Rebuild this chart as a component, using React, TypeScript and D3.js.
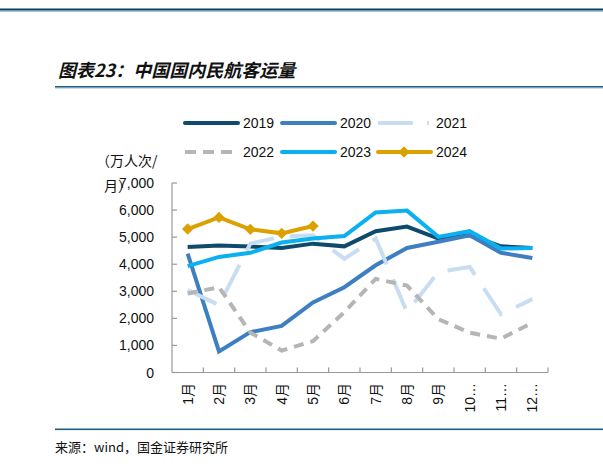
import React from "react";
import * as d3 from "d3";

const months = ["1月", "2月", "3月", "4月", "5月", "6月", "7月", "8月", "9月", "10月", "11月", "12月"];
const monthLabels = ["1月", "2月", "3月", "4月", "5月", "6月", "7月", "8月", "9月", "10…", "11…", "12…"];
const yTicks = [0, 1000, 2000, 3000, 4000, 5000, 6000, 7000];

const s2019 = [4640, 4690, 4650, 4600, 4760, 4660, 5220, 5390, 4950, 5070, 4660, 4600];
const s2020 = [4390, 780, 1490, 1720, 2590, 3150, 3960, 4600, 4830, 5070, 4420, 4230];
const s2021 = [3050, 2490, 4760, 5020, 5070, 4200, 4950, 2230, 3710, 3900, 2150, 2710];
const s2022 = [2920, 3150, 1480, 810, 1160, 2230, 3460, 3210, 1970, 1470, 1250, 1840];
const s2023 = [3930, 4270, 4420, 4800, 4950, 5040, 5910, 5980, 5010, 5220, 4580, 4600];
const s2024 = [5300, 5730, 5290, 5140, 5410];

const series = [
  { name: "2019", values: s2019, color: "#0d4a6b", dash: "" },
  { name: "2020", values: s2020, color: "#3d7fc1", dash: "" },
  { name: "2021", values: s2021, color: "#c8ddf1", dash: "32,16" },
  { name: "2022", values: s2022, color: "#b5b5b5", dash: "10,7" },
  { name: "2023", values: s2023, color: "#0ab0ef", dash: "" },
  { name: "2024", values: s2024, color: "#dba100", dash: "", marker: true },
];

const FONT = "'Liberation Sans', Arial, 'Noto Sans CJK SC', sans-serif";
const CJK = "'Noto Sans CJK SC', sans-serif";

export default function App() {
  const W = 603, H = 464;
  const left = 172, right = 548, top = 183, bottom = 372.5;
  const x = d3.scaleBand<string>().domain(months).range([left, right]);
  const y = d3.scaleLinear().domain([0, 7000]).range([bottom, top]);
  const cx = (i: number) => (x(months[i]) as number) + x.bandwidth() / 2;
  const line = d3.line<number>().x((_, i) => cx(i)).y((d) => y(d));
  const diamond = d3.symbol().type(d3.symbolSquare).size(64)();

  const legendRows = [
    [series[0], series[1], series[2]],
    [series[3], series[4], series[5]],
  ];
  const legX = [185, 282, 378];
  const legY = [123, 152];

  return (
    <svg width={W} height={H} style={{ position: "absolute", left: 0, top: 0, background: "#fff" }}>
      {/* top rules */}
      <rect x={0} y={8.5} width={W} height={1.8} fill="#0d3e5c" />
      <rect x={0} y={10.3} width={W} height={1.2} fill="#4f86a8" />
      {/* title */}
      <text x={58} y={77} fontFamily={CJK} fontSize={18} fontWeight="bold" fontStyle="italic" fill="#111">
        图表23：中国国内民航客运量
      </text>
      <rect x={55} y={86} width={W - 55} height={1.6} fill="#1f5f86" />
      <rect x={55} y={87.6} width={W - 55} height={0.8} fill="#7aa7c4" />

      {/* legend */}
      {legendRows.map((row, r) =>
        row.map((s, c) => {
          const lx = legX[c], ly = legY[r];
          return (
            <g key={s.name}>
              {s.name === "2021" ? (
                <>
                  <line x1={lx} x2={lx + 35} y1={ly} y2={ly} stroke={s.color} strokeWidth={4} />
                  <line x1={lx + 49} x2={lx + 51} y1={ly} y2={ly} stroke={s.color} strokeWidth={4} />
                </>
              ) : s.name === "2022" ? (
                <line x1={lx} x2={lx + 49} y1={ly} y2={ly} stroke={s.color} strokeWidth={4} strokeDasharray="11,7" />
              ) : (
                <line x1={lx} x2={lx + 53} y1={ly} y2={ly} stroke={s.color} strokeWidth={4} strokeLinecap="round" />
              )}
              {s.marker && <path d={diamond as string} transform={`translate(${lx + 26},${ly}) rotate(45)`} fill={s.color} />}
              <text x={lx + 58} y={ly + 5} fontFamily={FONT} fontSize={14} fill="#111">
                {s.name}
              </text>
            </g>
          );
        })
      )}

      {/* y label */}
      <text x={96} y={166} fontFamily={CJK} fontSize={14} fill="#111">（万人次/</text>
      <text x={104} y={191} fontFamily={CJK} fontSize={14} fill="#111">月）</text>

      {/* axes */}
      <line x1={left} x2={left} y1={top} y2={bottom} stroke="#999" strokeWidth={1.2} />
      <line x1={left} x2={right} y1={bottom} y2={bottom} stroke="#999" strokeWidth={1.2} />
      {yTicks.map((t) => (
        <g key={t}>
          <line x1={left} x2={left + 5} y1={y(t)} y2={y(t)} stroke="#999" strokeWidth={1.2} />
          <text x={154} y={y(t) + 5} textAnchor="end" fontFamily={FONT} fontSize={14} fill="#111">
            {d3.format(",")(t)}
          </text>
        </g>
      ))}
      {months.map((m) => (
        <line key={m} x1={(x(m) as number) + x.bandwidth()} x2={(x(m) as number) + x.bandwidth()} y1={bottom} y2={bottom - 5} stroke="#999" strokeWidth={1.2} />
      ))}
      {monthLabels.map((m, i) => (
        <text
          key={m}
          transform={`translate(${cx(i) + 5},${383}) rotate(-90)`}
          textAnchor="end"
          fontFamily={FONT}
          fontSize={14}
          fill="#111"
        >
          {m}
        </text>
      ))}

      {/* series */}
      {series.map((s) => (
        <g key={s.name}>
          <path d={line(s.values) as string} fill="none" stroke={s.color} strokeWidth={4} strokeDasharray={s.dash || undefined} strokeLinejoin="miter" />
          {s.marker &&
            s.values.map((v, i) => (
              <path key={i} d={diamond as string} transform={`translate(${cx(i)},${y(v)}) rotate(45)`} fill={s.color} />
            ))}
        </g>
      ))}

      {/* bottom rule and source */}
      <rect x={55} y={428.5} width={W - 55} height={1.6} fill="#1f5f86" />
      <text x={55} y={452} fontFamily={CJK} fontSize={13} fill="#111">来源：wind，国金证券研究所</text>
    </svg>
  );
}
